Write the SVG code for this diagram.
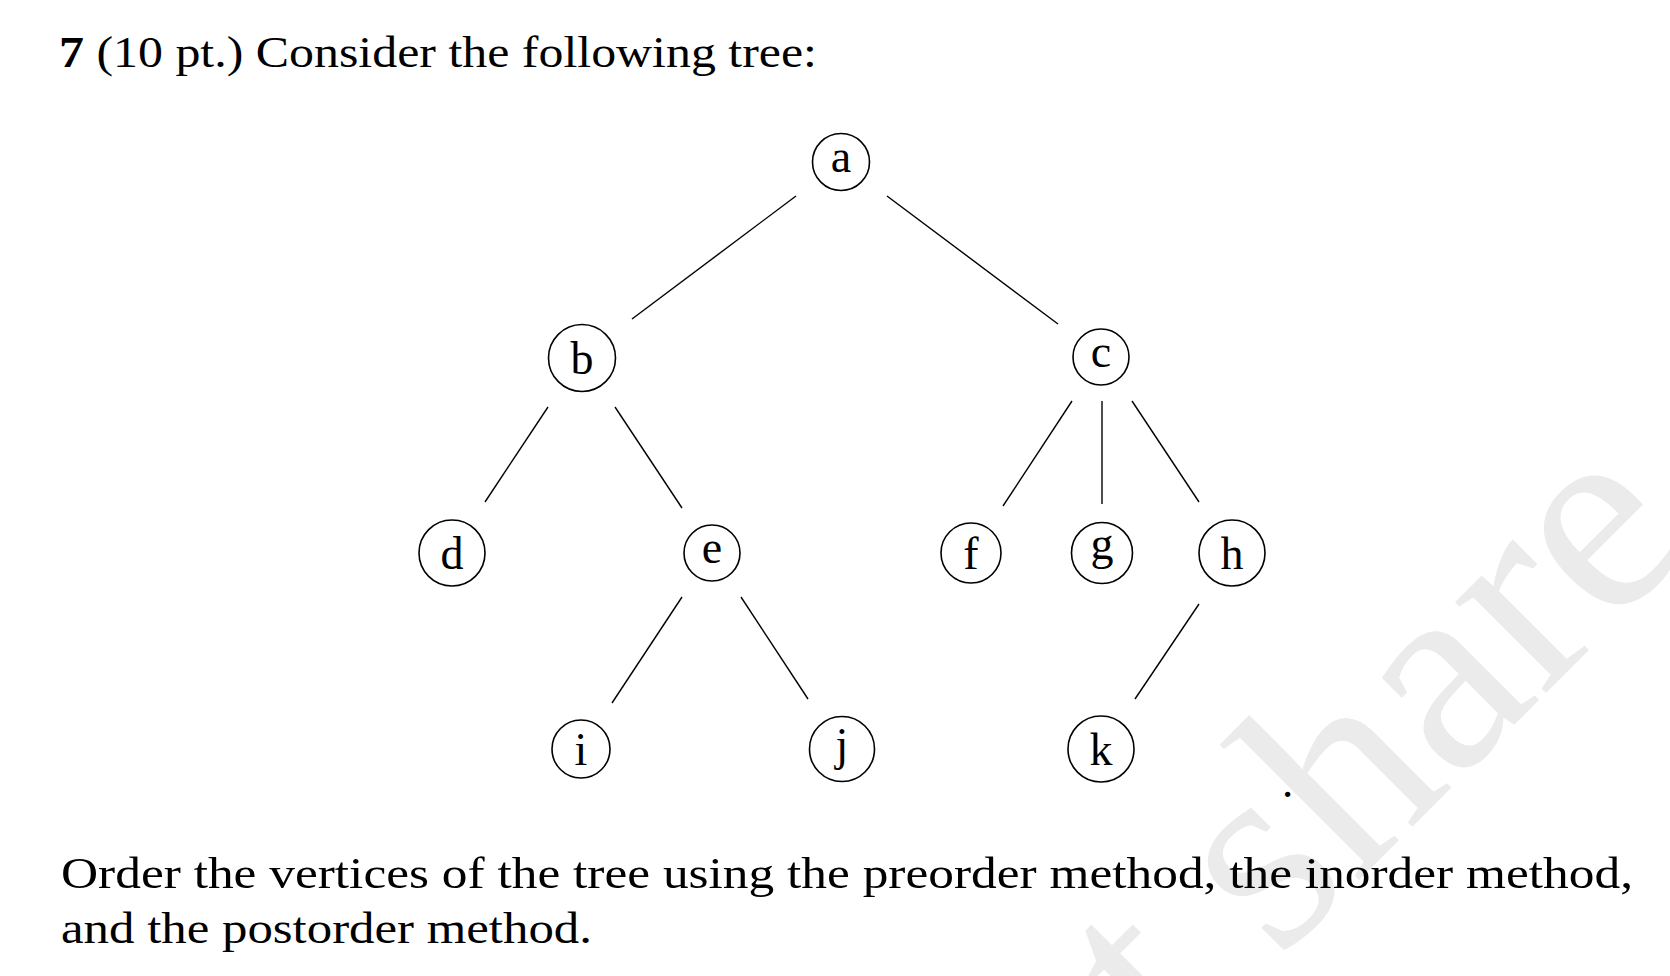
<svg xmlns="http://www.w3.org/2000/svg" width="1670" height="976" viewBox="0 0 1670 976">
<style>
.txt{font-family:"Liberation Serif","DejaVu Serif",serif;font-size:45px;fill:#000}
.lbl{font-family:"Liberation Serif","DejaVu Serif",serif;font-size:46px;fill:#000;text-anchor:middle}
.node circle{fill:#fff;stroke:#000;stroke-width:1.6}
.edges line{stroke:#000;stroke-width:1.4}
.wm{font-family:"Liberation Serif","DejaVu Serif",serif;font-size:280px;fill:#ebebeb}
</style>
<rect width="1670" height="976" fill="#fff"/>
<g id="watermark">
<text class="wm" transform="translate(1278,961) rotate(-45)">share</text>
<text class="wm" transform="translate(1173,1066) rotate(-45)">t</text>
</g>
<text class="txt" x="59" y="67" textLength="758" lengthAdjust="spacingAndGlyphs"><tspan font-weight="bold">7</tspan> (10 pt.) Consider the following tree:</text>
<g class="edges" id="connectors">
<line x1="796" y1="196" x2="632" y2="319"/>
<line x1="887" y1="196" x2="1058" y2="324"/>
<line x1="548" y1="407" x2="485" y2="502"/>
<line x1="615" y1="407" x2="682" y2="508"/>
<line x1="1072" y1="401" x2="1003" y2="506"/>
<line x1="1102" y1="401" x2="1102" y2="504"/>
<line x1="1132" y1="401" x2="1199" y2="502"/>
<line x1="682" y1="597" x2="612" y2="703"/>
<line x1="741" y1="597" x2="808" y2="699"/>
<line x1="1199" y1="604" x2="1135" y2="699"/>
</g>
<g class="node" id="node-a"><circle cx="841" cy="162" r="28.5"/><text class="lbl" x="841" y="172">a</text></g>
<g class="node" id="node-b"><circle cx="582" cy="358" r="33.5"/><text class="lbl" x="582" y="374">b</text></g>
<g class="node" id="node-c"><circle cx="1101" cy="357" r="28"/><text class="lbl" x="1101" y="367">c</text></g>
<g class="node" id="node-d"><circle cx="452" cy="553" r="33"/><text class="lbl" x="452" y="569">d</text></g>
<g class="node" id="node-e"><circle cx="712" cy="553" r="28"/><text class="lbl" x="712" y="563">e</text></g>
<g class="node" id="node-f"><circle cx="971" cy="553" r="30"/><text class="lbl" x="971" y="569">f</text></g>
<g class="node" id="node-g"><circle cx="1102" cy="553" r="30.5"/><text class="lbl" x="1102" y="559">g</text></g>
<g class="node" id="node-h"><circle cx="1232" cy="553" r="33"/><text class="lbl" x="1232" y="569">h</text></g>
<g class="node" id="node-i"><circle cx="581" cy="749" r="29"/><text class="lbl" x="581" y="765">i</text></g>
<g class="node" id="node-j"><circle cx="842" cy="749" r="32.5"/><text class="lbl" x="842" y="760">j</text></g>
<g class="node" id="node-k"><circle cx="1101" cy="749" r="33"/><text class="lbl" x="1101" y="765">k</text></g>
<text class="txt" x="1282" y="797">.</text>
<text class="txt" x="61" y="888" textLength="1572" lengthAdjust="spacingAndGlyphs">Order the vertices of the tree using the preorder method, the inorder method,</text>
<text class="txt" x="61" y="943" textLength="531" lengthAdjust="spacingAndGlyphs">and the postorder method.</text>
</svg>
